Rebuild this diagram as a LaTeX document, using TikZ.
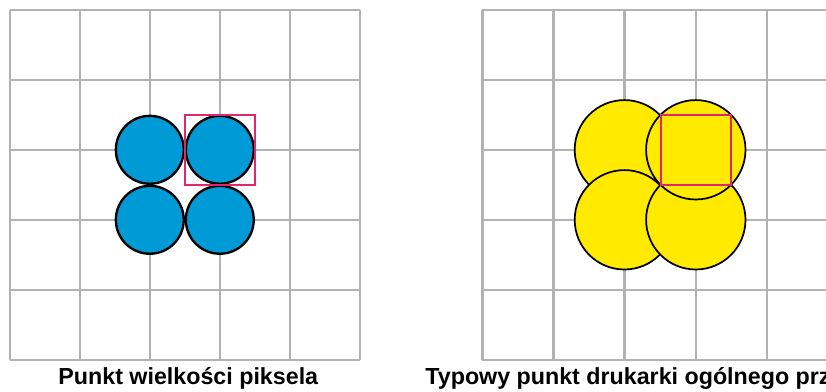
\documentclass[tikz,border=0pt]{standalone}
\usepackage{fontspec}
\setmainfont{Liberation Sans}
\definecolor{dotblue}{RGB}{0,155,215}
\definecolor{dotyellow}{RGB}{255,234,0}
\definecolor{pixred}{RGB}{222,40,110}

\begin{document}
\begin{tikzpicture}[
    gridline/.style={gray!60, line width=1pt},
    dotline/.style={draw=black, line width=0.7pt},
    pixbox/.style={draw=pixred, line width=0.8pt},
    caption/.style={font=\fontsize{9.45}{11}\selectfont\bfseries, inner sep=0pt}
]

    % picture: 826 x 392 px, one grid cell ~ 1cm (70 px)
    \useasboundingbox (0,0) rectangle (11.8,5.6);
    \clip (0,0) rectangle (11.8,5.6);

    % left panel: dot as large as a pixel
    \begin{scope}[shift={(0.14,0.46)}]
        \draw[gridline] (0,0) grid (5,5);
        \foreach \i/\j in {2/3,3/3,2/2,3/2}
            \filldraw[fill=dotblue, dotline, line width=0.95pt] (\i,\j) circle (0.485);
        \draw[pixbox] (2.5,2.5) rectangle (3.5,3.5);
    \end{scope}

    % right panel: printer dot covering the whole pixel
    \begin{scope}[shift={(6.89,0.46)}]
        \draw[gridline, xstep=1.017, ystep=1] (0,0) grid (6,5);
        \foreach \i/\j in {2.03/3,2.03/2,3.05/2,3.05/3}
            \filldraw[fill=dotyellow, dotline] (\i,\j) circle (0.71);
        \draw[pixbox] (2.55,2.5) rectangle (3.55,3.5);
    \end{scope}

    % captions
    \node[caption] (leftcap) at (2.69,0.19) {Punkt wielkości piksela};
    \node[caption, anchor=west] (rightcap) at (6.07,0.19) {Typowy punkt drukarki ogólnego prz};

\end{tikzpicture}
\end{document}
